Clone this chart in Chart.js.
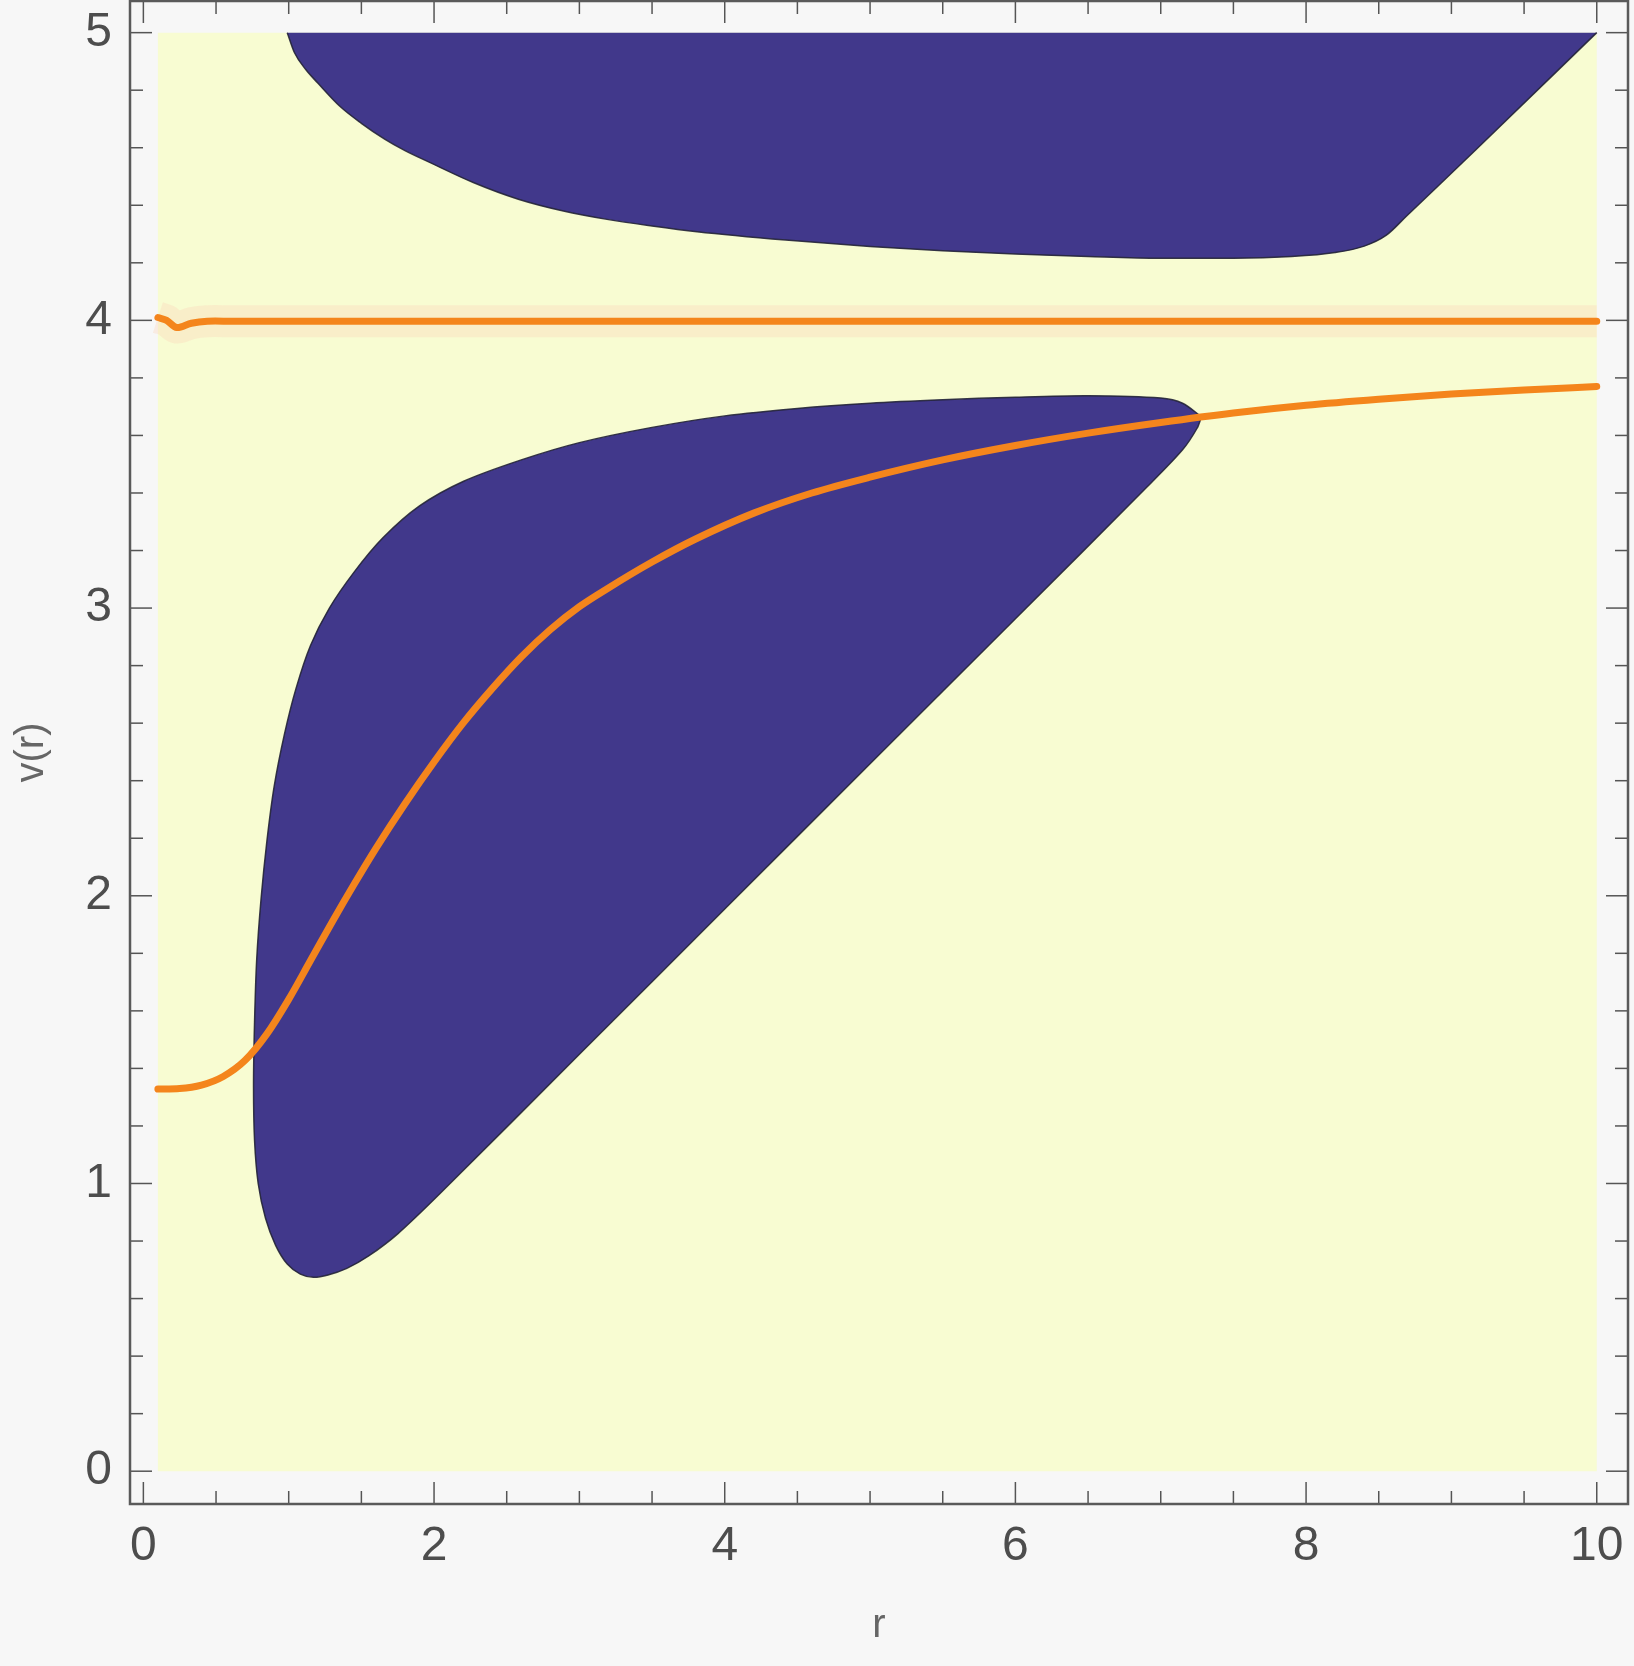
<!DOCTYPE html>
<html>
<head>
<meta charset="utf-8">
<script src="https://cdn.jsdelivr.net/npm/chart.js@4/dist/chart.umd.min.js"></script>
<style>
  html, body { margin: 0; padding: 0; background: #f7f7f7; }
  canvas { display: block; }
</style>
</head>
<body>
<canvas id="plot" width="1634" height="1666"></canvas>
<script>
// tick labels
var xTicks = [0, 2, 4, 6, 8, 10];
var yTicks = [0, 1, 2, 3, 4, 5];

// area where the region was evaluated
var regionR = [0.1, 0.1, 10, 10];
var regionV = [0, 5, 5, 0];

// upper dark region, its lower edge (closed along v = 5)
var upperR = [0.99, 1.04, 1.12, 1.20, 1.35, 1.50, 1.66, 1.80, 1.97, 2.27, 2.58, 2.89, 3.19, 3.50, 3.81, 4.42, 5.00, 5.50, 6.00, 6.50, 7.00, 7.50, 7.90, 8.20, 8.40, 8.55, 8.69, 8.91, 9.17, 10.0];
var upperV = [5.0, 4.93, 4.87, 4.825, 4.745, 4.685, 4.630, 4.590, 4.549, 4.479, 4.421, 4.380, 4.351, 4.328, 4.308, 4.279, 4.257, 4.242, 4.231, 4.222, 4.216, 4.216, 4.222, 4.236, 4.258, 4.295, 4.362, 4.468, 4.594, 5.0];

// lower dark region, outline starting at the right tip
var lowerR = [7.28, 7.15, 7.0, 6.5, 6.0, 5.5, 5.0, 4.5, 4.0, 3.5, 3.0, 2.6, 2.2, 1.9, 1.65, 1.45, 1.28, 1.15, 1.05, 0.97, 0.90, 0.85, 0.81, 0.78, 0.765, 0.758, 0.765, 0.79, 0.84, 0.91, 0.99, 1.08, 1.17, 1.27, 1.40, 1.55, 1.75, 2.043, 3.0, 4.0, 5.0, 6.0, 6.9, 7.15, 7.25, 7.28];
var lowerV = [3.665, 3.712, 3.730, 3.738, 3.733, 3.724, 3.712, 3.694, 3.668, 3.628, 3.575, 3.515, 3.440, 3.355, 3.245, 3.125, 3.000, 2.870, 2.720, 2.560, 2.380, 2.190, 1.990, 1.780, 1.560, 1.340, 1.150, 1.000, 0.880, 0.785, 0.720, 0.685, 0.674, 0.682, 0.705, 0.748, 0.825, 0.966, 1.449, 1.954, 2.459, 2.963, 3.418, 3.550, 3.625, 3.665];

// orange curves
var flatR = [0.1, 0.16, 0.23, 0.33, 0.44, 0.6, 10];
var flatV = [4.01, 4.0, 3.975, 3.99, 3.997, 3.997, 3.997];
var riseR = [0.1, 0.25, 0.40, 0.55, 0.70, 0.85, 1.00, 1.15, 1.30, 1.45, 1.60, 1.80, 2.00, 2.20, 2.40, 2.60, 2.80, 3.00, 3.20, 3.50, 3.80, 4.20, 4.60, 5.00, 5.50, 6.00, 6.50, 7.00, 7.50, 8.00, 8.50, 9.00, 9.50, 10.0];
var riseV = [1.328, 1.330, 1.342, 1.372, 1.428, 1.520, 1.640, 1.775, 1.910, 2.040, 2.165, 2.320, 2.465, 2.600, 2.720, 2.830, 2.925, 3.005, 3.070, 3.160, 3.240, 3.330, 3.400, 3.455, 3.515, 3.565, 3.608, 3.645, 3.678, 3.705, 3.726, 3.744, 3.758, 3.770];

function pts(rs, vs) {
  return rs.map(function (r, i) { return {x: r, y: vs[i]}; });
}

var yellow = '#f8fcd2';
var blue = '#41388b';
var edge = 'rgba(35,35,55,0.9)';
var orange = '#f4851c';

// Mathematica-style frame with inward ticks on all four sides
var frameTicks = {
  id: 'frameTicks',
  afterDatasetsDraw: function (chart) {
    var c = chart.ctx, a = chart.chartArea, xs = chart.scales.x, ys = chart.scales.y;
    c.save();
    c.strokeStyle = '#555';
    c.lineWidth = 1.5;
    function tick(x1, y1, x2, y2) {
      c.beginPath(); c.moveTo(x1, y1); c.lineTo(x2, y2); c.stroke();
    }
    var k, v, p, L;
    for (k = 0; k <= 20; k++) {
      v = k * 0.5;
      p = xs.getPixelForValue(v);
      L = xTicks.indexOf(v) >= 0 ? 22 : 13;
      tick(p, a.top, p, a.top + L);
      tick(p, a.bottom, p, a.bottom - L);
    }
    for (k = 0; k <= 25; k++) {
      v = k * 0.2;
      p = ys.getPixelForValue(v);
      L = (k % 5 === 0) ? 22 : 13;
      tick(a.left, p, a.left + L, p);
      tick(a.right, p, a.right - L, p);
    }
    c.lineWidth = 2.5;
    c.strokeStyle = '#5a5a5a';
    c.strokeRect(a.left, a.top, a.right - a.left, a.bottom - a.top);
    c.restore();
  }
};

var ctx = document.getElementById('plot').getContext('2d');
var chart = new Chart(ctx, {
  type: 'scatter',
  data: {
    datasets: [
      {
        data: pts(regionR, regionV),
        showLine: true, fill: 'shape', backgroundColor: yellow,
        borderWidth: 0, pointRadius: 0, tension: 0, order: 10
      },
      {
        data: pts(upperR, upperV),
        showLine: true, fill: 'shape', backgroundColor: blue,
        borderColor: edge, borderWidth: 1.5, pointRadius: 0,
        cubicInterpolationMode: 'monotone', order: 5
      },
      {
        data: pts(lowerR, lowerV),
        showLine: true, fill: 'shape', backgroundColor: blue,
        borderColor: edge, borderWidth: 1.5, pointRadius: 0, tension: 0.3, order: 5
      },
      {
        data: pts(flatR, flatV),
        showLine: true, fill: false, borderColor: 'rgba(252,212,185,0.35)',
        borderWidth: 32, pointRadius: 0, tension: 0.3, order: 3
      },
      {
        data: pts(flatR, flatV),
        showLine: true, fill: false, borderColor: orange, borderWidth: 7,
        borderCapStyle: 'round', borderJoinStyle: 'round',
        pointRadius: 0, tension: 0.3, order: 1
      },
      {
        data: pts(riseR, riseV),
        showLine: true, fill: false, borderColor: orange, borderWidth: 7,
        borderCapStyle: 'round', borderJoinStyle: 'round',
        pointRadius: 0, cubicInterpolationMode: 'monotone', order: 1
      }
    ]
  },
  options: {
    responsive: false,
    animation: false,
    layout: { padding: { left: 0, top: 1, right: 6, bottom: 0 } },
    plugins: { legend: { display: false }, tooltip: { enabled: false } },
    scales: {
      x: {
        type: 'linear',
        min: -0.092, max: 10.215,
        afterBuildTicks: function (s) { s.ticks = xTicks.map(function (v) { return {value: v}; }); },
        afterFit: function (s) { s.height = 162; s.paddingLeft = 0; s.paddingRight = 0; },
        grid: { display: false, drawTicks: false },
        border: { display: false },
        ticks: {
          padding: 14, color: '#4d4d4d',
          font: { family: 'Liberation Sans, Arial, sans-serif', size: 48 },
          maxRotation: 0, autoSkip: false
        },
        title: {
          display: true, text: 'r', color: '#666',
          font: { family: 'Liberation Sans, Arial, sans-serif', size: 40 },
          padding: { top: 0, bottom: 16 }
        }
      },
      y: {
        type: 'linear',
        min: -0.114, max: 5.11,
        afterBuildTicks: function (s) { s.ticks = yTicks.map(function (v) { return {value: v}; }); },
        afterFit: function (s) { s.width = 130; s.paddingTop = 0; s.paddingBottom = 0; },
        grid: { display: false, drawTicks: false },
        border: { display: false },
        ticks: {
          padding: 18, color: '#4d4d4d',
          font: { family: 'Liberation Sans, Arial, sans-serif', size: 48 },
          autoSkip: false
        },
        title: {
          display: true, text: 'v(r)', color: '#666',
          font: { family: 'Liberation Sans, Arial, sans-serif', size: 40 },
          padding: { top: 8, bottom: 0 }
        }
      }
    }
  },
  plugins: [frameTicks]
});
</script>
</body>
</html>
